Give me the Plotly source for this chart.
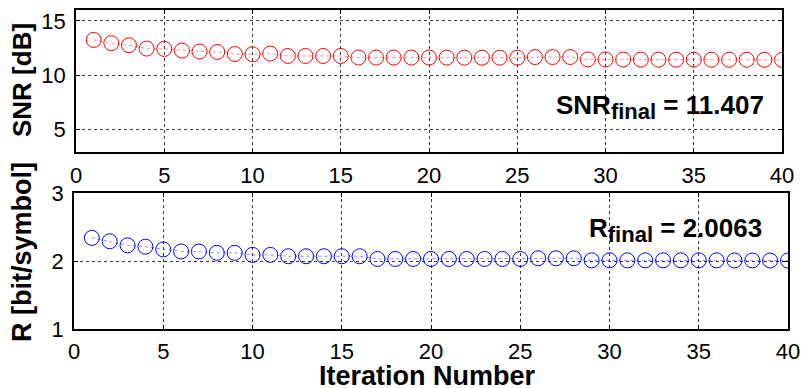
import plotly.graph_objects as go

# Iteration index and per-iteration results
iterations = list(range(1, 41))
snr_db = [13.24, 12.94, 12.75, 12.44, 12.41, 12.26, 12.17, 12.13, 11.94, 11.92,
          11.98, 11.76, 11.76, 11.76, 11.76, 11.62, 11.61, 11.61, 11.61, 11.61,
          11.61, 11.60, 11.60, 11.60, 11.60, 11.66, 11.66, 11.66, 11.44, 11.43,
          11.43, 11.42, 11.42, 11.42, 11.42, 11.41, 11.41, 11.41, 11.41, 11.407]
rate = [2.34, 2.29, 2.23, 2.21, 2.17, 2.14, 2.14, 2.12, 2.12, 2.09,
        2.09, 2.07, 2.07, 2.07, 2.07, 2.07, 2.03, 2.03, 2.03, 2.03,
        2.03, 2.03, 2.03, 2.03, 2.03, 2.04, 2.04, 2.04, 2.01, 2.01,
        2.01, 2.01, 2.01, 2.01, 2.01, 2.01, 2.008, 2.008, 2.007, 2.0063]
x_ticks = [0, 5, 10, 15, 20, 25, 30, 35, 40]
snr_ticks = [5, 10, 15]
rate_ticks = [1, 2, 3]

W, H = 801, 388
FONT = "Liberation Sans, Arial, sans-serif"


def px_x(p):
    return p / W


def px_y(p):
    return 1 - p / H


fig = go.Figure()

fig.add_trace(go.Scatter(
    x=iterations, y=snr_db, xaxis="x", yaxis="y",
    mode="lines+markers",
    line=dict(color="rgba(255,0,0,0.45)", width=1, dash="dot"),
    marker=dict(symbol="circle-open", size=15, color="#ff0000",
                line=dict(width=1, color="#ff0000")),
    showlegend=False,
))
fig.add_trace(go.Scatter(
    x=iterations, y=rate, xaxis="x2", yaxis="y2",
    mode="lines+markers",
    line=dict(color="rgba(0,0,255,0.45)", width=1, dash="dot"),
    marker=dict(symbol="circle-open", size=15, color="#0000ff",
                line=dict(width=1, color="#0000ff")),
    showlegend=False,
))

axis_common = dict(
    showline=True, linecolor="black", linewidth=1.5, mirror="allticks",
    ticks="inside", ticklen=4, tickcolor="black", tickwidth=1,
    showgrid=True, gridcolor="#3a3a3a", gridwidth=1, griddash="dot",
    zeroline=False, automargin=False,
    tickfont=dict(family=FONT, size=22, color="black"),
)

fig.update_layout(
    width=W, height=H,
    margin=dict(l=0, r=0, t=0, b=0),
    paper_bgcolor="white", plot_bgcolor="white",
    xaxis=dict(axis_common, domain=[px_x(76), px_x(782)], range=[0, 40],
               tickvals=x_ticks, anchor="y", ticklabelstandoff=3),
    yaxis=dict(axis_common, domain=[px_y(152), px_y(10)], range=[2.9, 16],
               tickvals=snr_ticks, anchor="x", ticklabelstandoff=4),
    xaxis2=dict(axis_common, domain=[px_x(74), px_x(788)], range=[0, 40],
                tickvals=x_ticks, anchor="y2", ticklabelstandoff=2),
    yaxis2=dict(axis_common, domain=[px_y(329), px_y(193)], range=[1, 3],
                tickvals=rate_ticks, anchor="x2", ticklabelstandoff=4),
)

title_font = dict(family=FONT, size=26, color="black", weight="bold")
note_font = dict(family=FONT, size=26, color="black", weight="bold")

fig.add_annotation(text="<b>SNR [dB]</b>", xref="paper", yref="paper",
                   x=px_x(22), y=px_y(80), textangle=-90, showarrow=False,
                   xanchor="center", yanchor="middle", font=title_font)
fig.add_annotation(text="<b>R [bit/symbol]</b>", xref="paper", yref="paper",
                   x=px_x(22), y=px_y(252), textangle=-90, showarrow=False,
                   xanchor="center", yanchor="middle",
                   font=dict(title_font, size=27))
fig.add_annotation(text="<b>Iteration Number</b>", xref="paper", yref="paper",
                   x=px_x(427), y=px_y(376), showarrow=False,
                   xanchor="center", yanchor="middle",
                   font=dict(title_font, size=27))

fig.add_annotation(
    text="<b>SNR<sub><span style='font-size:22px'>final</span></sub> = %.3f</b>" % snr_db[-1],
    xref="paper", yref="paper", x=px_x(766), y=px_y(107), showarrow=False,
    xanchor="right", yanchor="middle", font=note_font)
fig.add_annotation(
    text="<b>R<sub><span style='font-size:22px'>final</span></sub> = %.4f</b>" % rate[-1],
    xref="paper", yref="paper", x=px_x(764), y=px_y(230), showarrow=False,
    xanchor="right", yanchor="middle", font=note_font)

fig.write_html("out.html")
